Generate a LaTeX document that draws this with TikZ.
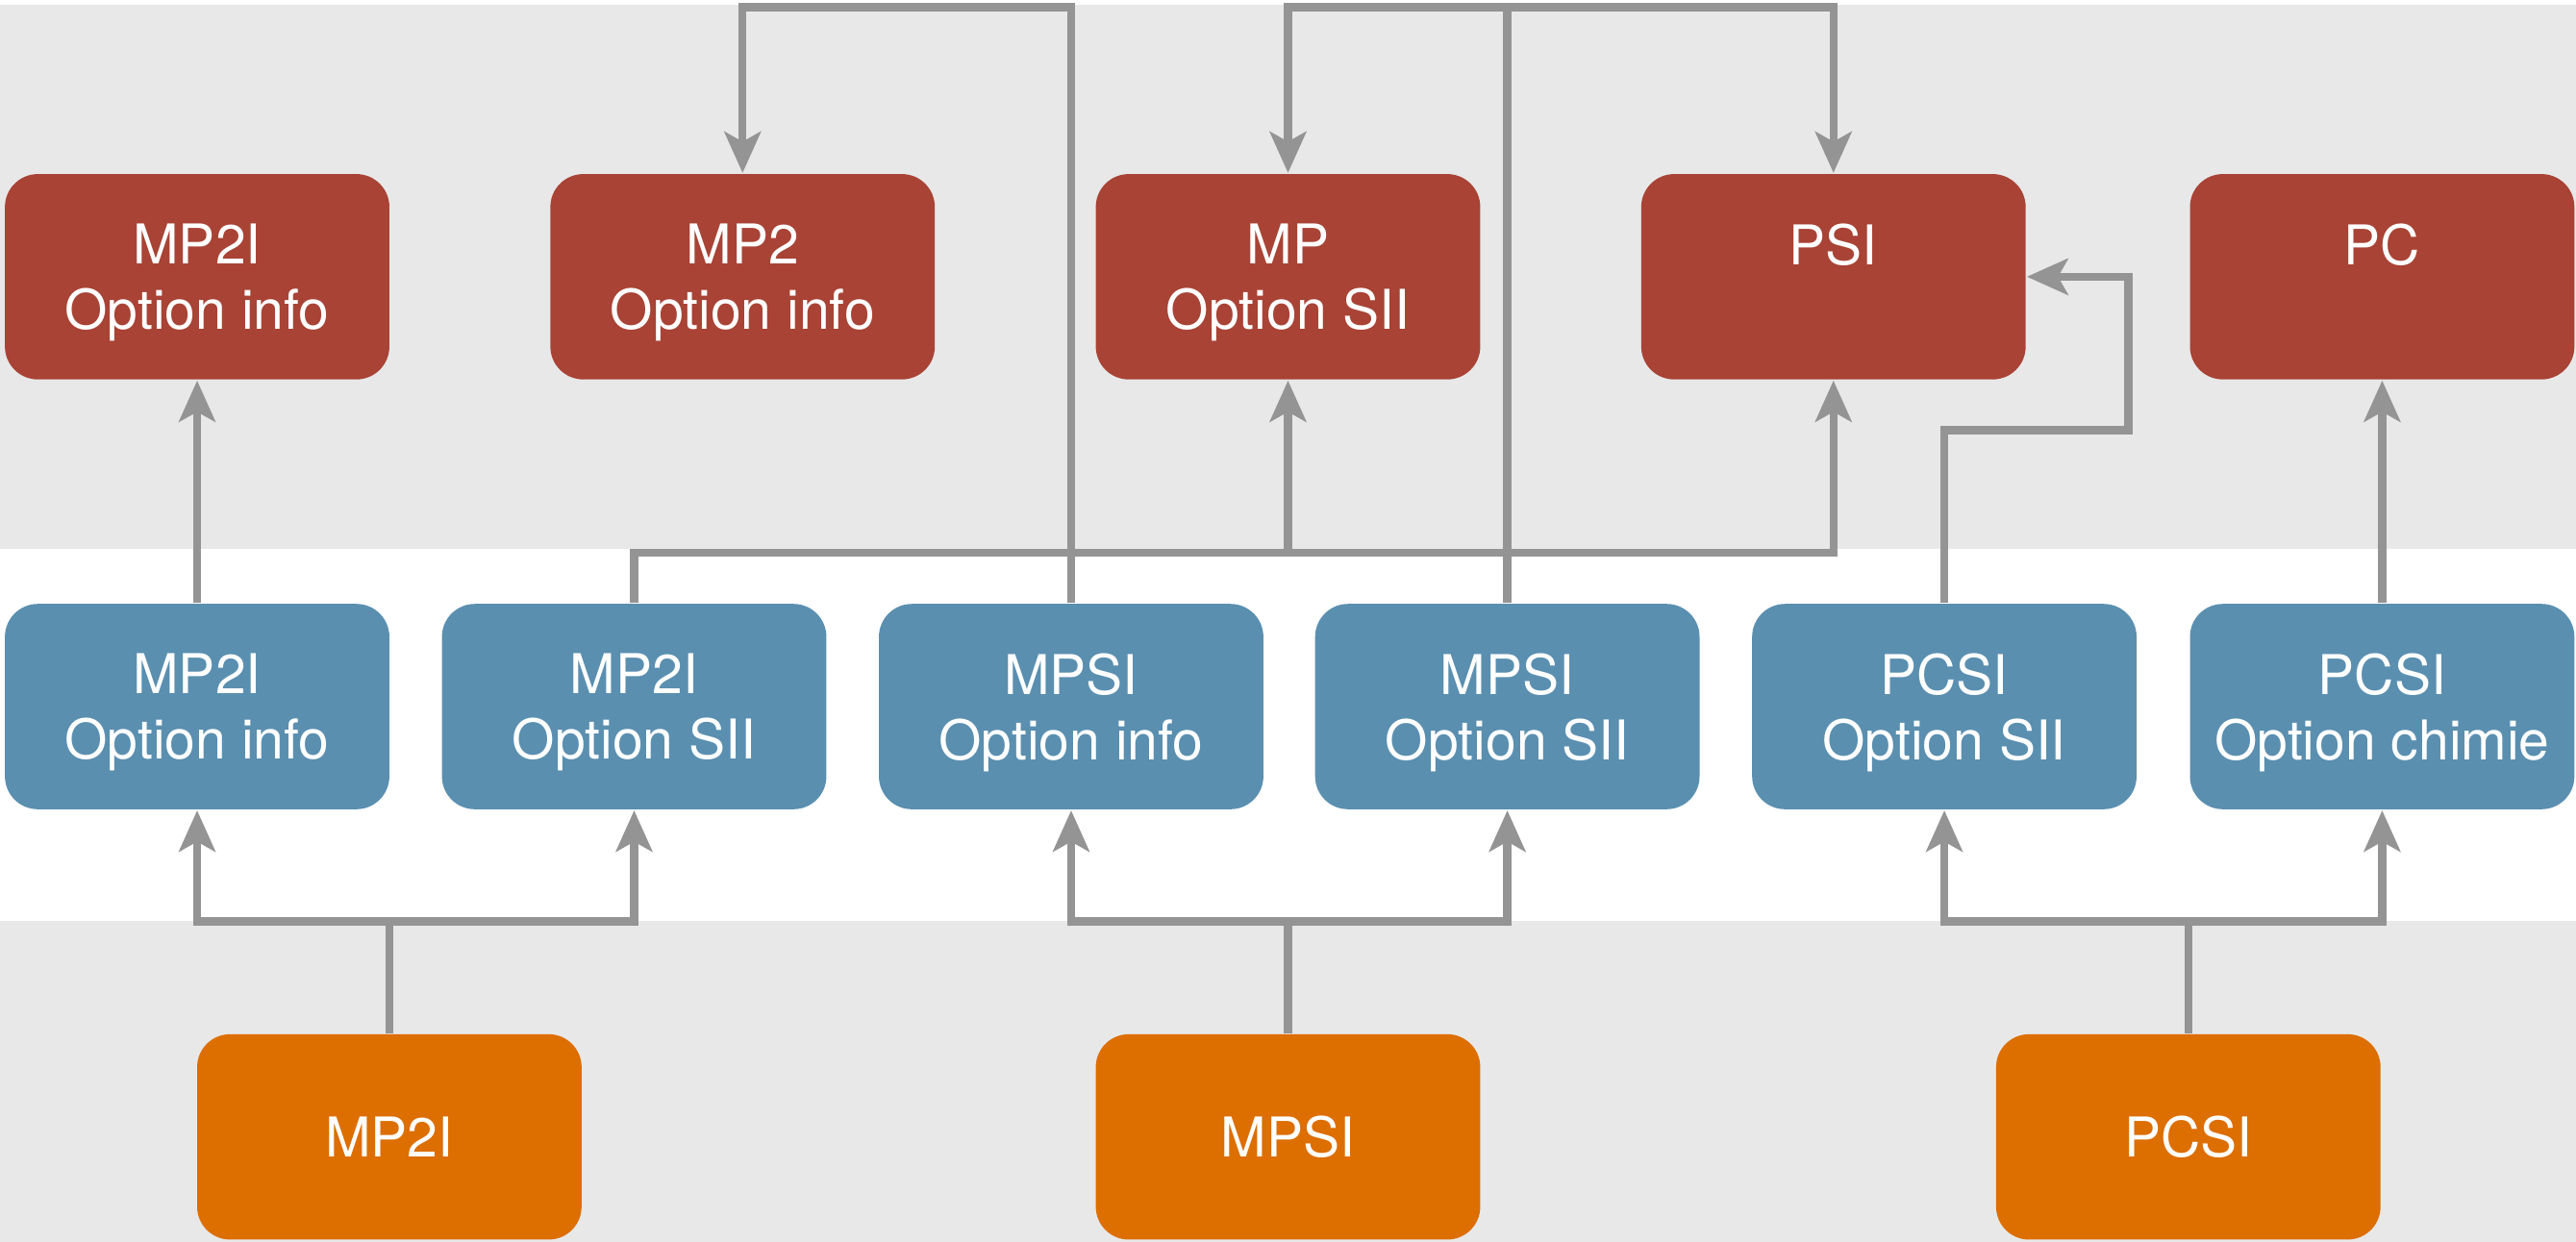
\documentclass[tikz,border=0pt]{standalone}
\usepackage{fontspec}
\setmainfont{TeX Gyre Heros}
\usetikzlibrary{arrows.meta}

\definecolor{bandgray}{RGB}{232,232,232}
\definecolor{linkgray}{RGB}{148,148,148}
\definecolor{speRed}{RGB}{168,67,53}
\definecolor{supBlue}{RGB}{90,143,176}
\definecolor{bacOrange}{RGB}{221,110,0}

\tikzset{
  box/.style={rounded corners=0.2cm, minimum width=2.34cm, minimum height=1.25cm,
    inner sep=0pt, text=white, align=center, text depth=0pt,
    font=\fontsize{9.5}{11.3}\selectfont},
  link/.style={draw=linkgray, line width=1.4pt},
  arr/.style={link, -{Stealth[length=0.25cm, width=0.22cm, inset=0.06cm]}}
}

\begin{document}
\begin{tikzpicture}

\useasboundingbox (0,0) rectangle (15.68,7.56);

% Bands
\fill[bandgray] (0,4.22) rectangle (15.68,7.53);
\fill[bandgray] (0,0) rectangle (15.68,1.954);

% First year
\node[box, fill=bacOrange] (mp2i) at (2.37,0.638) {MP2I};
\node[box, fill=bacOrange] (mpsi) at (7.84,0.638) {MPSI};
\node[box, fill=bacOrange] (pcsi) at (13.32,0.638) {PCSI};

% Options
\node[box, fill=supBlue] (mp2iInfo) at (1.20,3.258) {MP2I\\Option info};
\node[box, fill=supBlue] (mp2iSii) at (3.86,3.258) {MP2I\\Option SII};
\node[box, fill=supBlue] (mpsiInfo) at (6.52,3.258) {MPSI\\Option info};
\node[box, fill=supBlue] (mpsiSii) at (9.175,3.258) {MPSI\\Option SII};
\node[box, fill=supBlue] (pcsiSii) at (11.835,3.258) {PCSI\\Option SII};
\node[box, fill=supBlue] (pcsiChimie) at (14.50,3.258) {PCSI\\Option chimie};

% Second year
\node[box, fill=speRed] (mp2iSpe) at (1.20,5.875) {MP2I\\Option info};
\node[box, fill=speRed] (mp2Spe) at (4.52,5.875) {MP2\\Option info};
\node[box, fill=speRed] (mpSpe) at (7.84,5.875) {MP\\Option SII};
\node[box, fill=speRed] (psiSpe) at (11.16,5.875) {PSI\\\strut};
\node[box, fill=speRed] (pcSpe) at (14.50,5.875) {PC\\\strut};

% First year -> options
\draw[arr] (mp2i.north) -- (mp2i.north |- 0,1.95) -| (mp2iInfo.south);
\draw[arr] (mp2i.north) -- (mp2i.north |- 0,1.95) -| (mp2iSii.south);
\draw[arr] (mpsi.north) -- (mpsi.north |- 0,1.95) -| (mpsiInfo.south);
\draw[arr] (mpsi.north) -- (mpsi.north |- 0,1.95) -| (mpsiSii.south);
\draw[arr] (pcsi.north) -- (pcsi.north |- 0,1.95) -| (pcsiSii.south);
\draw[arr] (pcsi.north) -- (pcsi.north |- 0,1.95) -| (pcsiChimie.south);

% Options -> second year
\draw[arr] (mp2iInfo) -- (mp2iSpe);
\draw[arr] (mp2iSii.north) -- (mp2iSii.north |- 0,4.195) -| (mpSpe.south);
\draw[arr] (mp2iSii.north) -- (mp2iSii.north |- 0,4.195) -| (psiSpe.south);
\draw[arr] (mpsiInfo.north) -- (mpsiInfo.north |- 0,7.515) -| (mp2Spe.north);
\draw[arr] (mpsiSii.north) -- (mpsiSii.north |- 0,7.515) -| (mpSpe.north);
\draw[arr] (mpsiSii.north) -- (mpsiSii.north |- 0,7.515) -| (psiSpe.north);
\draw[arr] (pcsiSii.north) |- (12.955,4.94) |- (psiSpe.east);
\draw[arr] (pcsiChimie) -- (pcSpe);

\end{tikzpicture}
\end{document}
